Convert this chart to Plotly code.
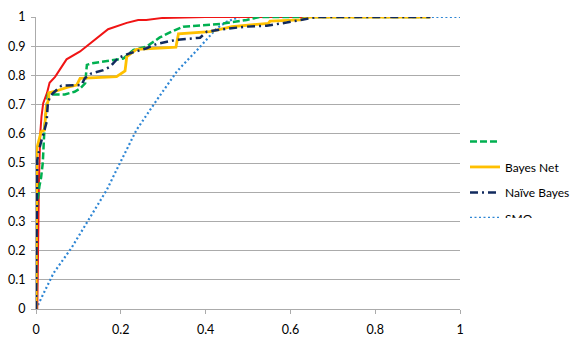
import plotly.graph_objects as go

# ROC curves (false positive rate vs true positive rate)
red_x = [0, 0.003, 0.007, 0.010, 0.013, 0.017, 0.026, 0.032, 0.045, 0.072, 0.104, 0.143, 0.170, 0.214, 0.241, 0.260, 0.300, 0.400, 0.930]
red_y = [0, 0.0, 0.44, 0.60, 0.66, 0.705, 0.74, 0.775, 0.795, 0.855, 0.882, 0.927, 0.958, 0.980, 0.990, 0.990, 0.997, 1.0, 1.0]

green_x = [0, 0.002, 0.008, 0.012, 0.016, 0.020, 0.024, 0.028, 0.068, 0.091, 0.104, 0.116, 0.120, 0.131, 0.206, 0.230, 0.261, 0.292, 0.316, 0.347, 0.434, 0.497, 0.528, 0.930]
green_y = [0, 0.35, 0.42, 0.45, 0.50, 0.62, 0.68, 0.735, 0.735, 0.744, 0.755, 0.773, 0.836, 0.841, 0.858, 0.887, 0.899, 0.930, 0.947, 0.967, 0.976, 0.990, 1.0, 1.0]

bayes_net_x = [0, 0.002, 0.012, 0.020, 0.024, 0.030, 0.030, 0.044, 0.075, 0.096, 0.104, 0.190, 0.210, 0.214, 0.237, 0.330, 0.336, 0.410, 0.462, 0.548, 0.552, 0.623, 0.646, 0.930]
bayes_net_y = [0, 0.55, 0.607, 0.613, 0.69, 0.72, 0.74, 0.745, 0.76, 0.767, 0.79, 0.796, 0.815, 0.864, 0.889, 0.897, 0.942, 0.950, 0.967, 0.978, 0.986, 0.990, 1.0, 1.0]

naive_bayes_x = [0, 0.002, 0.003, 0.009, 0.013, 0.020, 0.025, 0.028, 0.033, 0.040, 0.060, 0.083, 0.107, 0.115, 0.131, 0.159, 0.175, 0.194, 0.222, 0.261, 0.285, 0.332, 0.387, 0.403, 0.450, 0.497, 0.544, 0.591, 0.638, 0.662, 0.930]
naive_bayes_y = [0, 0.30, 0.51, 0.556, 0.58, 0.613, 0.64, 0.705, 0.727, 0.739, 0.765, 0.767, 0.767, 0.79, 0.807, 0.818, 0.83, 0.86, 0.876, 0.893, 0.908, 0.922, 0.929, 0.95, 0.96, 0.967, 0.97, 0.981, 0.992, 1.0, 1.0]

smo_x = [0, 0.041, 0.084, 0.123, 0.167, 0.198, 0.237, 0.285, 0.332, 0.387, 0.426, 0.450, 0.480, 1.0]
smo_y = [0, 0.122, 0.21, 0.305, 0.408, 0.50, 0.613, 0.716, 0.813, 0.898, 0.961, 0.984, 1.0, 1.0]

x_ticks = [0, 0.2, 0.4, 0.6, 0.8, 1]
x_tick_labels = ["0", "0.2", "0.4", "0.6", "0.8", "1"]
y_ticks = [0, 0.1, 0.2, 0.3, 0.4, 0.5, 0.6, 0.7, 0.8, 0.9, 1]
y_tick_labels = ["0", "0.1", "0.2", "0.3", "0.4", "0.5", "0.6", "0.7", "0.8", "0.9", "1"]

GRID = "#ABABAB"
FONT = "Lato"

fig = go.Figure()
fig.add_trace(go.Scatter(x=smo_x, y=smo_y, mode="lines", name="SMO",
                         line=dict(color="#2E86D4", width=2.2, dash="2px,2.5px"),
                         legendgroup="e", legendrank=5))
fig.add_trace(go.Scatter(x=red_x, y=red_y, mode="lines", name="J48",
                         line=dict(color="#F01414", width=2), showlegend=False))
fig.add_trace(go.Scatter(x=green_x, y=green_y, mode="lines", name=" ",
                         line=dict(color="#00B050", width=2.5, dash="7px,3px"),
                         legendgroup="b", legendrank=2))
fig.add_trace(go.Scatter(x=bayes_net_x, y=bayes_net_y, mode="lines", name="Bayes Net",
                         line=dict(color="#FFC000", width=2.8),
                         legendgroup="c", legendrank=3))
fig.add_trace(go.Scatter(x=naive_bayes_x, y=naive_bayes_y, mode="lines", name="Naïve Bayes",
                         line=dict(color="#112A5E", width=2.5, dash="8px,4px,2px,4px"),
                         legendgroup="d", legendrank=4))

# the reference's legend is cut just below the top of its last label
fig.add_annotation(xref="paper", yref="paper", x=1.0047, y=0.3116,
                   xanchor="left", yanchor="top", text=" ", showarrow=False,
                   width=112, height=24, bgcolor="white", borderpad=0, borderwidth=0)

fig.update_layout(
    width=574, height=338,
    margin=dict(l=36, r=114, t=17, b=29, autoexpand=False),
    paper_bgcolor="white", plot_bgcolor="white",
    font=dict(family=FONT, size=12.5, color="#000000"),
    showlegend=True,
    legend=dict(x=1.0118, xanchor="left", y=0.6235, yanchor="top",
                traceorder="grouped", tracegroupgap=6.5,
                font=dict(family=FONT, size=12, color="#000000"),
                bgcolor="rgba(0,0,0,0)", itemwidth=30),
    xaxis=dict(range=[0, 1], tickvals=x_ticks, ticktext=x_tick_labels, automargin=False,
               showgrid=False, zeroline=False, showline=True, linecolor=GRID, linewidth=1,
               ticks="outside", ticklen=4, tickcolor=GRID, ticklabelstandoff=5,
               tickfont=dict(family=FONT, size=12.5)),
    yaxis=dict(range=[0, 1], tickvals=y_ticks, ticktext=y_tick_labels, automargin=False,
               showgrid=True, gridcolor=GRID, gridwidth=1.2, zeroline=False,
               showline=True, linecolor=GRID, linewidth=1,
               ticks="outside", ticklen=4, tickcolor=GRID, ticklabelstandoff=3,
               tickfont=dict(family=FONT, size=12.5)),
)

# the page's default 8px body margin would shift the whole chart; remove it
fig.write_html("out.html", config={"displayModeBar": False},
               post_script="document.body.style.margin='0';")
